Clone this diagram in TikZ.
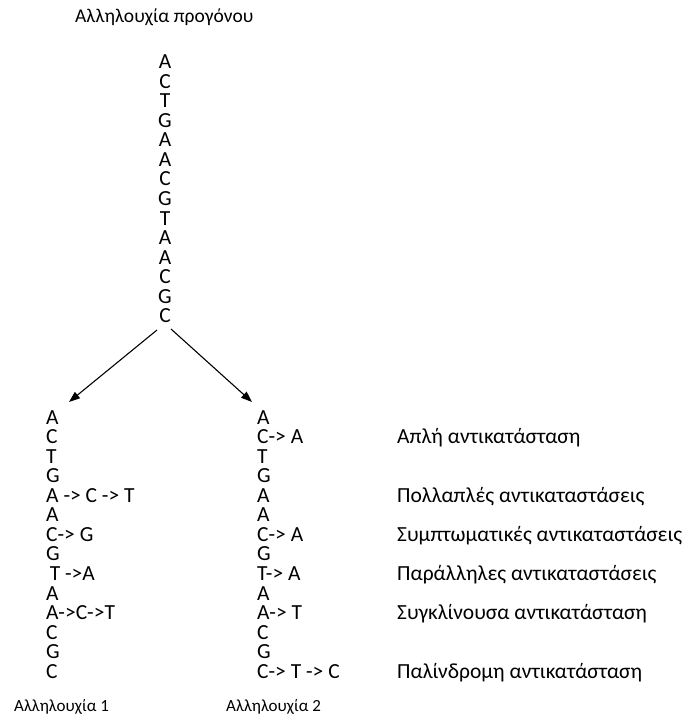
\documentclass[tikz,border=0pt]{standalone}
\usepackage{fontspec}
\setmainfont{Carlito}
\usetikzlibrary{arrows.meta}
\begin{document}
\begin{tikzpicture}[x=1pt,y=-1pt,
  base/.style={inner sep=0pt,font=\fontsize{21.5}{21.5}\selectfont},
  letter/.style={base,anchor=center},
  rowtext/.style={base,anchor=mid west},
  caption/.style={base,anchor=mid west},
  seqname/.style={inner sep=0pt,anchor=mid west,font=\fontsize{17}{17}\selectfont},
  titletext/.style={inner sep=0pt,anchor=mid west,font=\fontsize{19.5}{19.5}\selectfont},
  branch/.style={line width=1.1pt,-{Triangle[length=11pt,width=8pt]}}]
\useasboundingbox (0,0) rectangle (691,724);

% ancestral sequence
\node[titletext] (title) at (75,20) {Αλληλουχία προγόνου};
\foreach \b [count=\i] in {A,C,T,G,A,A,C,G,T,A,A,C,G,C}
  \node[letter] (a\i) at (165,{61.7+19.55*(\i-1)}) {\b};

% descendant sequence 1
\foreach \t [count=\i] in {A,C,T,G,A -> C -> T,A,C-> G,G,{\,T ->A},A,A->C->T,C,G,C}
  \node[rowtext] (l\i) at (46,{421.7+19.55*(\i-1)}) {\t};
\node[seqname] (name1) at (14,709) {Αλληλουχία 1};

% descendant sequence 2
\foreach \t [count=\i] in {A,C-> A,T,G,A,A,C-> A,G,T-> A,A,A-> T,C,G,C-> T -> C}
  \node[rowtext] (r\i) at (257,{421.7+19.55*(\i-1)}) {\t};
\node[seqname] (name2) at (226,709) {Αλληλουχία 2};

% kinds of substitution
\node[caption] (k1) at (397,{421.7+19.55*1}) {Απλή αντικατάσταση};
\node[caption] (k2) at (397,{421.7+19.55*4}) {Πολλαπλές αντικαταστάσεις};
\node[caption] (k3) at (397,{421.7+19.55*6}) {Συμπτωματικές αντικαταστάσεις};
\node[caption] (k4) at (397,{421.7+19.55*8}) {Παράλληλες αντικαταστάσεις};
\node[caption] (k5) at (397,{421.7+19.55*10}) {Συγκλίνουσα αντικατάσταση};
\node[caption] (k6) at (397,{421.7+19.55*13}) {Παλίνδρομη αντικατάσταση};

% branching arrows
\coordinate (forkL) at (157,330);
\coordinate (forkR) at (171,329);
\coordinate (tipL) at (69,402);
\coordinate (tipR) at (252,402);
\draw[branch] (forkL) -- (tipL);
\draw[branch] (forkR) -- (tipR);
\end{tikzpicture}
\end{document}
